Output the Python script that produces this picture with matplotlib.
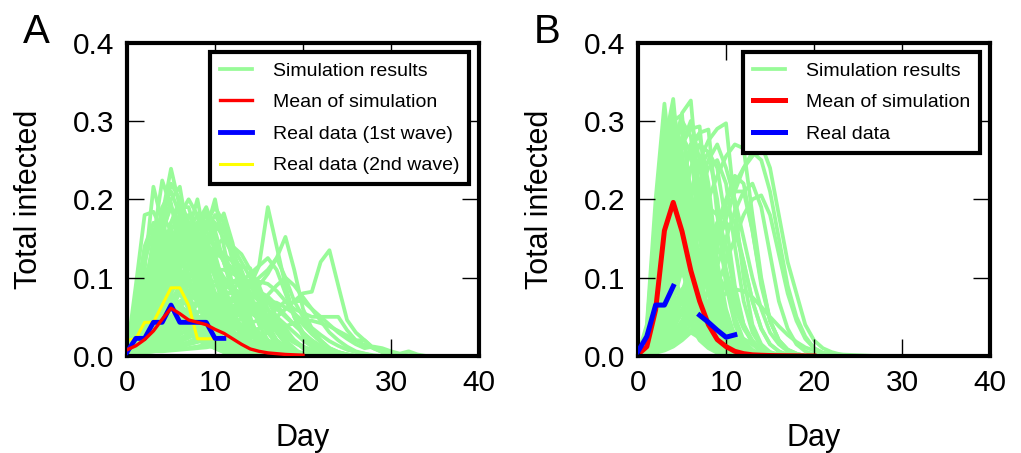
import numpy as np
import matplotlib
matplotlib.use("Agg")
import matplotlib.pyplot as plt

plt.rcParams['font.family'] = ['Liberation Sans', 'DejaVu Sans']

# ---- panel A data (values in percent of population, index = day) ----
sim_a_pct = [
    [0.5, 9, 18, 18.4, 16, 13, 10, 7, 5, 3, 2, 1, 0.5, 0],
    [0.5, 4, 11, 21.6, 17, 19.5, 14, 10, 7, 4, 2.5, 1.5, 0.5, 0],
    [0.5, 3, 8, 15, 22.4, 19, 16, 12, 8, 5, 3, 1.5, 0.5, 0],
    [0.5, 2, 6, 12, 18, 23.9, 19, 14, 10, 7, 4, 2, 1, 0.5, 0],
    [0.5, 2, 5, 10, 15, 20, 21.6, 15, 12, 9, 6, 3.5, 2, 1, 0],
    [0.5, 1.5, 4, 8, 13, 17, 20, 16, 13, 10, 7, 4, 2, 1, 0],
    [0.5, 1, 3, 6, 10, 14, 17, 15.9, 20, 14, 10, 6, 3.5, 1.5, 0.5, 0],
    [0.5, 1, 2.5, 5, 8, 12, 15, 16, 16, 18.4, 13, 9, 5, 2.5, 1, 0],
    [0.5, 1, 2, 4, 7, 10, 13, 15, 17, 16, 20, 14, 9, 5, 2, 1, 0],
    [0.5, 0.8, 1.5, 3, 5, 8, 11, 13, 15, 17, 16, 18.2, 14.4, 9, 5, 2, 1, 0],
    [0.5, 0.8, 1.5, 2.5, 4, 6, 9, 12, 14, 15, 14, 13, 12, 11.4, 11.2, 8, 4, 2, 1, 0],
    [0.5, 1, 2, 3.5, 5.5, 8, 11, 14, 16, 17, 15, 12, 9, 6, 3, 1.5, 0.5, 0],
    [0.5, 2, 4, 7, 10, 12, 13, 12, 10, 8, 6, 4, 2.5, 1.5, 0.8, 0.3, 0],
    [0.5, 1.5, 3.5, 6, 9, 11, 12, 11.5, 10.5, 9, 7.5, 6, 4.5, 3, 2, 1, 0.5, 0],
    [0.5, 3, 6, 10, 14, 15, 13, 10, 7, 5, 3, 2, 1, 0.5, 0],
    [0.5, 2.5, 5, 8, 11, 13, 14, 13, 11, 9, 7, 5, 3, 2, 1, 0.5, 0],
    [0.5, 1, 2, 3.5, 5.5, 8, 10, 12, 13, 13, 12, 10, 8, 6, 4, 2.5, 1.5, 0.8, 0.3, 0],
    [0.5, 1, 2, 3, 4.5, 6.5, 8.5, 10, 11, 11.5, 11, 10, 9, 7.5, 6, 4.5, 3, 2, 1, 0.5, 0],
    [0.5, 4, 8, 12, 14, 12, 9, 7, 5, 3.5, 2.5, 1.5, 1, 0.5, 0],
    [0.5, 5, 10, 13, 12, 10, 8, 6, 4.5, 3, 2, 1, 0.5, 0],
    [0.5, 1.5, 3, 5, 7, 9, 10, 10.5, 10, 9, 8, 7, 6, 5, 4, 3, 2, 1.3, 0.8, 0.4, 0],
    [0.5, 0.8, 1.2, 2, 3, 4.5, 6, 8, 10, 12, 13, 12.5, 11, 9, 7, 5, 3.5, 2, 1, 0.5, 0],
    [0.5, 1, 1.5, 2.5, 3.5, 5, 6.5, 8, 9, 9.5, 9.5, 9, 8.5, 8, 7, 6, 5, 4, 3, 2, 1.2, 0.6, 0.3, 0],
    [0.5, 1.5, 3, 4.5, 6, 7, 6.5, 5.5, 4.5, 3.5, 2.5, 1.8, 1.2, 0.8, 0.4, 0],
    [0.5, 1, 2, 3, 4, 5, 5.5, 5.5, 5, 4.5, 4, 3.5, 3, 2.5, 2, 1.5, 1, 0.6, 0.3, 0],
    [0.5, 2, 3.5, 5, 5.5, 5, 4, 3, 2, 1.5, 1, 0.6, 0.3, 0],
    [0.5, 0.8, 1.2, 1.8, 2.5, 3.2, 4, 4.5, 5, 5, 4.8, 4.5, 4, 3.5, 3, 2.5, 2, 1.5, 1, 0.7, 0.4, 0.2, 0],
    [0.5, 1, 1.5, 2, 2.5, 3, 3, 3, 2.8, 2.5, 2, 1.6, 1.2, 0.8, 0.5, 0.3, 0],
    [0.5, 3, 6, 8, 9, 8, 6.5, 5, 3.5, 2.5, 1.5, 1, 0.5, 0],
    [0.5, 0.7, 1, 1.5, 2, 2.8, 3.5, 4.5, 5.5, 6.5, 7.5, 8, 8, 7.5, 6.5, 5.5, 4.5, 3.5, 2.5, 1.8, 1.2, 0.8, 0.5, 0.3, 0],
    [0.5, 0.6, 0.8, 1, 1.3, 1.7, 2.2, 2.8, 3.5, 4.5, 5.5, 6.5, 7.5, 8.5, 9, 11.5, 19, 14, 9, 5, 2.5, 1.5, 0.8, 0.3, 0],
    [0.5, 0.5, 0.6, 0.7, 0.9, 1.1, 1.4, 1.8, 2.3, 2.9, 3.6, 4.5, 5.5, 6.5, 7.5, 9, 10.5, 12.5, 15.2, 11, 6, 3.5, 2, 1, 0.5, 0.2, 0],
    [0.5, 0.5, 0.5, 0.6, 0.7, 0.8, 0.9, 1, 1.2, 1.4, 1.6, 1.9, 2.2, 2.6, 3, 3.5, 4, 5, 6, 7, 8, 8.2, 12, 13.5, 9, 4.6, 3, 2, 1, 0.5, 0.2, 0],
    [0.5, 0.5, 0.6, 0.7, 0.8, 1, 1.2, 1.5, 1.8, 2.2, 2.6, 3, 3.4, 3.8, 4.2, 4.6, 5, 6, 7, 6, 5.5, 5, 5, 5, 5, 3.3, 2, 2, 1, 0.5, 0.3, 0],
    [0.5, 0.6, 0.8, 1.1, 1.5, 2, 2.7, 3.5, 4.5, 5.5, 6.5, 7.5, 8.5, 9.5, 10.5, 11.5, 12.5, 11, 8, 5, 3, 1.5, 0.8, 0.3, 0],
    [0.5, 0.6, 0.7, 0.9, 1.2, 1.6, 2.1, 2.7, 3.4, 4.2, 5, 6, 7, 8, 9, 10, 11, 12.5, 10, 7, 5, 3, 2, 1, 0.5, 0.2, 0],
    [0.5, 0.7, 1, 1.4, 2, 2.7, 3.5, 4.5, 5.5, 6.5, 7.5, 8.5, 9.5, 10, 9, 8, 7, 6, 5, 4, 3, 2, 1.2, 0.6, 0.2, 0],
    [0.5, 0.5, 0.6, 0.7, 0.8, 1, 1.2, 1.5, 1.8, 2.2, 2.7, 3.3, 4, 4.8, 5.7, 6.7, 7.8, 9, 10, 9, 7.5, 6, 4.5, 3, 2, 1.2, 0.6, 0.3, 0],
    [0.5, 0.5, 0.5, 0.6, 0.6, 0.7, 0.8, 0.9, 1, 1.1, 1.3, 1.5, 1.7, 2, 2.3, 2.6, 3, 3.4, 3.8, 4.2, 4.5, 4.5, 4.2, 3.8, 3.2, 2.6, 2, 1.4, 1, 0.6, 0.4, 0.2, 0.1, 0],
    [0.5, 0.5, 0.5, 0.6, 0.7, 0.8, 0.9, 1, 1.2, 1.4, 1.6, 1.9, 2.2, 2.6, 3, 3.5, 4, 5, 6, 7, 7, 6, 5, 4, 3, 2.2, 1.5, 1, 1.2, 1, 0.6, 0.3, 0.6, 0.2, 0],
    [0.5, 7, 14, 17, 15, 12, 9, 6, 4, 2.5, 1.5, 0.8, 0.3, 0],
    [0.5, 6, 12, 16, 17, 14, 11, 8, 5, 3, 2, 1, 0.5, 0],
    [0.5, 5, 9, 14, 18, 16, 13, 10, 7, 4.5, 3, 1.5, 0.7, 0],
    [0.5, 6, 10, 11, 10, 8, 6, 4, 3, 2, 1, 0.5, 0],
    [0.5, 4, 7, 11, 16, 19, 17, 14, 11, 8, 5, 3, 1.5, 0.5, 0],
    [0.5, 3.5, 9, 13, 19, 21, 18, 13, 9, 6, 4, 2, 1, 0.3, 0],
    [0.5, 2.5, 7, 12, 17, 22, 20, 17, 13, 9, 6, 3.5, 2, 1, 0],
    [0.5, 3, 5, 9, 12, 17, 19, 19, 15, 12, 8, 5, 3, 1.5, 0.5, 0],
    [0.5, 2, 4, 7, 11, 14, 18, 20, 18, 15, 11, 8, 5, 3, 1.5, 0.5, 0],
    [0.5, 1.5, 3.5, 6, 9, 13, 16, 14, 17, 19, 16, 12, 8, 5, 3, 1.5, 0.5, 0],
    [0.5, 1.5, 3, 5, 8, 11, 14, 16, 18, 17, 19, 17, 12, 8, 4, 2, 1, 0],
    [0.5, 1, 2.5, 4.5, 7, 10, 12, 14, 16, 18, 17, 15, 13, 10, 7, 4, 2, 1, 0],
    [0.5, 1, 2, 3.5, 6, 9, 12, 13, 14, 16, 18, 16, 13, 11, 8, 5, 3, 1.5, 0.5, 0],
    [0.5, 1, 2, 3, 5, 7, 9, 11, 13, 15, 16, 17, 14, 12, 10, 7, 4, 2, 1, 0],
    [0.5, 0.8, 1.5, 2.5, 4, 6, 8, 10, 12, 13, 14, 15, 14, 13, 11, 9, 6, 3.5, 2, 1, 0],
    [0.5, 2, 5, 8, 12, 15, 17, 18, 16, 13, 10, 7, 4.5, 2.5, 1.2, 0.5, 0],
    [0.5, 2.5, 6, 10, 13, 16, 18, 17, 14, 11, 8, 5, 3, 1.5, 0.7, 0],
    [0.5, 2, 4.5, 7.5, 11, 13, 15, 16, 17, 15, 12, 9, 6, 3.5, 2, 1, 0],
    [0.5, 1.5, 3, 5.5, 8.5, 11, 13, 14, 15, 16, 14, 12, 9, 7, 4.5, 2.5, 1, 0.5, 0],
    [0.5, 1.2, 2.5, 4.5, 7, 9.5, 12, 13, 13.5, 14, 13.5, 12.5, 11, 10, 9, 7, 5, 3, 1.5, 0.6, 0],
    [0.5, 1, 2, 3.5, 5, 7, 8.5, 9.5, 10, 10.5, 11, 11, 10.5, 10, 9.5, 8.5, 7, 5, 3.5, 2, 1, 0.4, 0],
    [0.5, 4, 8, 10, 9, 7, 5, 3.5, 2.5, 1.5, 1, 0.5, 0],
    [0.5, 3, 7, 11, 13, 13, 11, 9, 7, 5, 3.5, 2, 1, 0.4, 0],
    [0.5, 2, 4, 6, 8, 9, 9, 8, 7, 6, 5, 4, 3, 2, 1.3, 0.7, 0.3, 0],
    [0.5, 1.5, 3, 4, 5, 6, 7, 7.5, 7.5, 7, 6.5, 6, 5, 4, 3, 2.2, 1.5, 1, 0.5, 0],
    [0.5, 1, 1.5, 2, 3, 4, 5, 6, 7, 8, 9, 9.5, 9.5, 9, 8, 7, 6, 4.5, 3, 2, 1, 0.5, 0],
    [0.5, 2, 3, 4, 4.5, 4.5, 4, 3.5, 3, 2.5, 2, 1.5, 1, 0.6, 0.3, 0],
    [0.5, 1, 1.5, 2, 2.5, 3.5, 4.5, 5.5, 6.5, 7, 7, 6.5, 6, 5, 4, 3, 2, 1.2, 0.6, 0.2, 0],
    [0.5, 0.8, 1, 1.3, 1.7, 2.2, 2.8, 3.5, 4.2, 5, 5.8, 6.5, 7, 7.2, 7, 6.5, 5.8, 5, 4, 3, 2, 1.2, 0.6, 0.3, 0],
    [0.5, 0.6, 0.8, 1, 1.3, 1.7, 2.2, 2.8, 3.5, 4.3, 5.2, 6.2, 7.2, 8.2, 9, 9.5, 9.2, 8.3, 7, 5.5, 4, 2.8, 1.8, 1, 0.5, 0.2, 0],
    [0.5, 0.7, 1, 1.5, 2, 2.6, 3.3, 4, 4.8, 5.5, 6, 6.3, 6.3, 6, 5.5, 4.8, 4, 3.2, 2.4, 1.7, 1.1, 0.6, 0.3, 0],
    [0.5, 0.6, 0.7, 0.9, 1.1, 1.4, 1.8, 2.3, 2.9, 3.6, 4.4, 5.3, 6.3, 7.3, 8, 8.2, 7.6, 6.5, 5.2, 4, 2.9, 2, 1.3, 0.8, 0.4, 0.2, 0],
    [0.5, 0.5, 0.6, 0.7, 0.9, 1.1, 1.4, 1.7, 2.1, 2.6, 3.2, 3.9, 4.7, 5.5, 6.3, 6.8, 7, 6.8, 6.2, 5.4, 4.5, 3.6, 2.7, 1.9, 1.3, 0.8, 0.5, 0.3, 0.1, 0],
]
mean_a = [0.008, 0.013, 0.021, 0.032, 0.047, 0.061, 0.054, 0.046, 0.043, 0.04, 0.034,
          0.029, 0.022, 0.015, 0.009, 0.006, 0.004, 0.003, 0.002, 0.0015, 0.001]
real_a_1st = [0.005, 0.0225, 0.0225, 0.043, 0.043, 0.065, 0.043, 0.043, 0.043, 0.043, 0.0225, 0.0225]
real_a_2nd = [0.02, 0.022, 0.043, 0.043, 0.065, 0.087, 0.087, 0.065, 0.022, 0.022, 0.022]

# ---- panel B data ----
sim_b_pct = [
    [0.2, 4, 20, 32.2, 22, 12, 6, 3, 1.5, 0.7, 0.3, 0],
    [0.2, 2, 12, 27, 32.8, 21, 11, 5, 2.5, 1, 0.5, 0],
    [0.2, 1.5, 9, 22, 30, 30.8, 19, 10, 5, 2, 1, 0.4, 0],
    [0.2, 1, 6, 16, 26, 31, 32.6, 20, 10, 4.5, 2, 1, 0.3, 0],
    [0.2, 0.8, 4, 11, 20, 27, 29, 29.3, 18, 9, 4, 2, 0.8, 0.3, 0],
    [0.2, 0.6, 3, 8, 15, 22, 27, 28.5, 28.9, 18, 9, 4, 1.5, 0.5, 0],
    [0.2, 0.5, 2, 5, 10, 16, 21, 25, 27.5, 29, 29.7, 19, 10, 4, 1.5, 0.5, 0],
    [0.2, 0.4, 1, 2.5, 5, 8, 12, 16, 20, 23, 25.5, 27, 26.5, 18, 10, 4.5, 2, 0.8, 0.3, 0],
    [0.2, 0.3, 0.6, 1.2, 2.2, 3.8, 6, 9, 12.5, 16, 19.5, 22, 24, 25.5, 27, 24, 18, 12, 8, 4, 2, 1, 0.5, 0.2, 0],
    [0.2, 0.3, 0.5, 1, 1.8, 3, 5, 7.5, 10.5, 14, 17.5, 21, 24, 26, 25, 21, 15, 9, 5, 2.5, 1, 0.4, 0],
    [0.2, 0.5, 1.5, 4, 8, 13, 18, 22, 25, 27, 24, 20, 15, 10, 6, 3, 1.5, 0.6, 0.2, 0],
    [0.2, 3, 15, 28, 25, 15, 8, 4, 2, 1, 0.4, 0],
    [0.2, 2.5, 13, 25, 29, 18, 9, 4, 2, 0.8, 0.3, 0],
    [0.2, 1.5, 8, 19, 27, 26, 16, 8, 4, 1.5, 0.6, 0],
    [0.2, 1, 5, 13, 22, 28, 26, 16, 8, 3.5, 1.5, 0.5, 0],
    [0.2, 1, 4, 10, 17, 23, 26, 22, 13, 6, 2.5, 1, 0.3, 0],
    [0.2, 0.8, 3, 8, 14, 20, 24, 25, 20, 11, 5, 2, 0.8, 0.2, 0],
    [0.2, 2, 9, 18, 20, 15, 9, 5, 2.5, 1, 0.4, 0],
    [0.2, 1.5, 6, 13, 18, 19, 14, 8, 4, 1.8, 0.7, 0.2, 0],
    [0.2, 1, 4, 9, 14, 17, 17, 13, 8, 4, 1.8, 0.7, 0.2, 0],
    [0.2, 0.7, 2.5, 6, 10, 14, 17, 18, 15, 10, 5, 2.2, 0.9, 0.3, 0],
    [0.2, 0.5, 1.5, 4, 7, 11, 14, 17, 19, 18, 14, 8, 4, 1.5, 0.5, 0],
    [0.2, 3, 11, 14, 11, 7, 4, 2, 1, 0.4, 0],
    [0.2, 1.2, 5, 10, 12, 11, 8, 5, 3, 1.5, 0.6, 0.2, 0],
    [0.2, 0.8, 3, 6, 9, 11, 11, 9, 6.5, 4, 2, 1, 0.4, 0],
    [0.2, 0.5, 1.5, 3.5, 6, 8.5, 10, 10.5, 9, 7, 4.5, 2.5, 1.2, 0.5, 0],
    [0.2, 0.4, 1, 2.2, 4, 6, 8, 10, 11, 10.5, 8.5, 6, 3.5, 1.8, 0.8, 0.3, 0],
    [0.2, 0.3, 0.7, 1.5, 2.8, 4.5, 6.5, 9, 12, 15, 17, 16, 12, 7, 3.5, 1.5, 0.6, 0.2, 0],
    [0.2, 0.3, 0.6, 1.2, 2.2, 3.5, 5.5, 8, 11, 14.5, 18, 21, 21, 16, 9.5, 4.5, 2, 0.8, 0.3, 0],
    [0.2, 0.3, 0.5, 0.9, 1.6, 2.6, 4, 6, 8.5, 11.5, 15, 18.5, 21, 22, 19, 13, 7, 3.5, 1.5, 0.6, 0.2, 0],
    [0.2, 0.2, 0.4, 0.7, 1.2, 2, 3, 4.5, 6.5, 9, 12, 15, 18, 20, 20.5, 18, 13, 8, 4.5, 2.2, 1, 0.4, 0.1, 0],
    [0.2, 1, 3, 5, 6, 5.5, 4, 2.8, 1.8, 1, 0.5, 0.2, 0],
    [0.2, 0.5, 1.5, 3, 4.5, 5.5, 6, 5.5, 4.5, 3.5, 2.5, 1.5, 0.8, 0.4, 0],
    [0.2, 0.3, 0.8, 1.6, 2.6, 3.6, 4.5, 5, 5, 4.6, 3.8, 3, 2.2, 1.5, 0.9, 0.5, 0.2, 0],
    [0.2, 0.3, 0.5, 0.9, 1.5, 2.3, 3.3, 4.5, 5.8, 7, 8, 8.5, 8.3, 7.5, 6.3, 5, 3.8, 2.7, 1.8, 1.1, 0.7, 0.4, 0.3, 0.2, 0.15, 0.1, 0.05, 0],
    [0.2, 1.5, 7, 16, 24, 22, 14, 7, 3, 1.2, 0.5, 0],
    [0.2, 3.5, 18, 30, 24, 14, 7, 3.5, 1.5, 0.6, 0.2, 0],
    [0.2, 2.5, 14, 29, 31, 19, 10, 5, 2, 1, 0.4, 0],
    [0.2, 2, 11, 24, 31.5, 25, 14, 7, 3, 1.3, 0.5, 0],
    [0.2, 1.8, 9, 20, 28, 29, 21, 11, 5, 2.2, 0.9, 0.3, 0],
    [0.2, 1.2, 7, 17, 25, 30, 28, 18, 9, 4, 1.7, 0.6, 0],
    [0.2, 1, 5, 13, 21, 27, 30, 25, 15, 7, 3, 1.2, 0.4, 0],
    [0.2, 0.8, 4, 10, 17, 23, 27, 28, 22, 12, 6, 2.5, 1, 0.3, 0],
    [0.2, 0.6, 3, 8, 13, 19, 24, 27, 26, 20, 11, 5, 2, 0.8, 0.2, 0],
    [0.2, 0.5, 2, 6, 10, 15, 20, 24, 26, 24, 17, 9, 4, 1.6, 0.6, 0],
    [0.2, 0.4, 1.5, 4, 8, 12, 17, 21, 24, 25, 22, 14, 7, 3, 1.2, 0.4, 0],
    [0.2, 3, 13, 22, 20, 13, 7, 3.5, 1.5, 0.6, 0.2, 0],
    [0.2, 2, 10, 20, 24, 17, 9, 4.5, 2, 0.8, 0.3, 0],
    [0.2, 1.5, 7, 16, 22, 21, 13, 6.5, 3, 1.2, 0.5, 0],
    [0.2, 1.2, 5, 12, 19, 22, 18, 10, 5, 2, 0.8, 0.3, 0],
    [0.2, 1, 4, 9, 15, 20, 21, 15, 8, 3.5, 1.5, 0.5, 0],
    [0.2, 0.8, 3, 7, 12, 17, 20, 19, 12, 6, 2.5, 1, 0.3, 0],
    [0.2, 2.5, 9, 15, 15, 11, 7, 4, 2, 0.8, 0.3, 0],
    [0.2, 1.5, 6, 12, 15, 14, 10, 6, 3, 1.4, 0.6, 0.2, 0],
    [0.2, 1, 4, 8, 12, 14, 13, 9, 5.5, 3, 1.3, 0.5, 0],
    [0.2, 0.8, 3, 6, 10, 13, 14, 12, 8, 4.5, 2.2, 1, 0.3, 0],
    [0.2, 0.5, 2, 4.5, 8, 11, 13, 13.5, 11, 7.5, 4, 2, 0.8, 0.3, 0],
    [0.2, 2, 6, 9, 9, 7, 4.5, 2.7, 1.5, 0.7, 0.3, 0],
    [0.2, 1.3, 4, 7, 8.5, 8, 6, 4, 2.5, 1.3, 0.6, 0.2, 0],
    [0.2, 0.8, 2.5, 5, 7, 8, 7.5, 6, 4, 2.5, 1.3, 0.6, 0.2, 0],
    [0.2, 0.5, 1.5, 3.5, 5.5, 7, 7.5, 7, 5.5, 4, 2.5, 1.3, 0.6, 0.2, 0],
    [0.2, 0.4, 1.2, 2.5, 4.5, 7, 10, 13, 15, 14, 11, 7, 4, 2, 0.8, 0.3, 0],
    [0.2, 0.3, 0.9, 2, 3.5, 5.5, 8, 11, 14, 17, 19, 17, 12, 7, 3.5, 1.5, 0.6, 0],
    [0.2, 0.3, 0.7, 1.5, 2.8, 4.5, 7, 10, 13.5, 17, 20, 23, 22, 16, 9, 4.5, 2, 0.8, 0.3, 0],
    [0.2, 1, 2, 3, 3.5, 3.5, 3, 2.3, 1.6, 1, 0.5, 0.2, 0],
    [0.2, 0.5, 1, 2, 3, 4, 4.5, 4.3, 3.7, 3, 2.2, 1.5, 0.9, 0.5, 0.2, 0],
]
mean_b = [0.002, 0.012, 0.059, 0.16, 0.196, 0.159, 0.109, 0.07, 0.04, 0.021, 0.012,
          0.006, 0.003, 0.0015, 0.001, 0.0006, 0.0004, 0.0003, 0.0002, 0.0001, 0.0]
real_b = [0.006, 0.025, 0.065, 0.065, 0.089, np.nan, np.nan, 0.052, 0.043, 0.033, 0.024, 0.027]

green = '#98fb98'


def style_axes(ax):
    ax.set_xlim(0, 40)
    ax.set_ylim(0, 0.4)
    ax.set_xticks([0, 10, 20, 30, 40])
    ax.set_yticks([0.0, 0.1, 0.2, 0.3, 0.4])
    ax.set_yticklabels(['0.0', '0.1', '0.2', '0.3', '0.4'])
    for sp in ax.spines.values():
        sp.set_linewidth(3)
    ax.tick_params(direction='in', length=12, width=1, top=True, right=True,
                   labelsize=21.5, pad=9)
    ax.set_xlabel('Day', fontsize=22)
    ax.set_ylabel('Total infected', fontsize=22)
    ax.xaxis.set_label_coords(0.5, -0.215)
    ax.yaxis.set_label_coords(-0.235, 0.5)


def legend(ax, handles, labels):
    leg = ax.legend(handles, labels, loc='upper right', fontsize=14, fancybox=False,
                    framealpha=1, borderaxespad=0.5, handlelength=1.65, handletextpad=1.1,
                    labelspacing=0.72, borderpad=0.5)
    leg.get_frame().set_linewidth(3)
    leg.get_frame().set_edgecolor('black')


fig = plt.figure(figsize=(10.21, 4.53), dpi=100)
ax_a = fig.add_axes([0.1244, 0.2141, 0.3448, 0.692])
ax_b = fig.add_axes([0.6249, 0.2141, 0.3448, 0.692])

# panel A
for curve in sim_a_pct:
    vals = np.array(curve) / 100.0
    g_a, = ax_a.plot(np.arange(len(vals)), vals, color=green, lw=2.7, zorder=1)
y2, = ax_a.plot(np.arange(len(real_a_2nd)), real_a_2nd, color='yellow', lw=2.2, zorder=2)
b1, = ax_a.plot(np.arange(len(real_a_1st)), real_a_1st, color='blue', lw=3.5, zorder=3)
m_a, = ax_a.plot(np.arange(len(mean_a)), mean_a, color='red', lw=2.4, zorder=4)
style_axes(ax_a)
legend(ax_a, [g_a, m_a, b1, y2],
       ['Simulation results', 'Mean of simulation', 'Real data (1st wave)', 'Real data (2nd wave)'])

# panel B
for curve in sim_b_pct:
    vals = np.array(curve) / 100.0
    g_b, = ax_b.plot(np.arange(len(vals)), vals, color=green, lw=2.7, zorder=1)
m_b, = ax_b.plot(np.arange(len(mean_b)), mean_b, color='red', lw=3.6, zorder=2)
rb, = ax_b.plot(np.arange(len(real_b)), real_b, color='blue', lw=3.6, zorder=3)
style_axes(ax_b)
legend(ax_b, [g_b, m_b, rb], ['Simulation results', 'Mean of simulation', 'Real data'])

fig.text(0.036, 0.905, 'A', fontsize=29, ha='center', va='baseline')
fig.text(0.536, 0.905, 'B', fontsize=29, ha='center', va='baseline')

fig.savefig('out.png', dpi=100)
